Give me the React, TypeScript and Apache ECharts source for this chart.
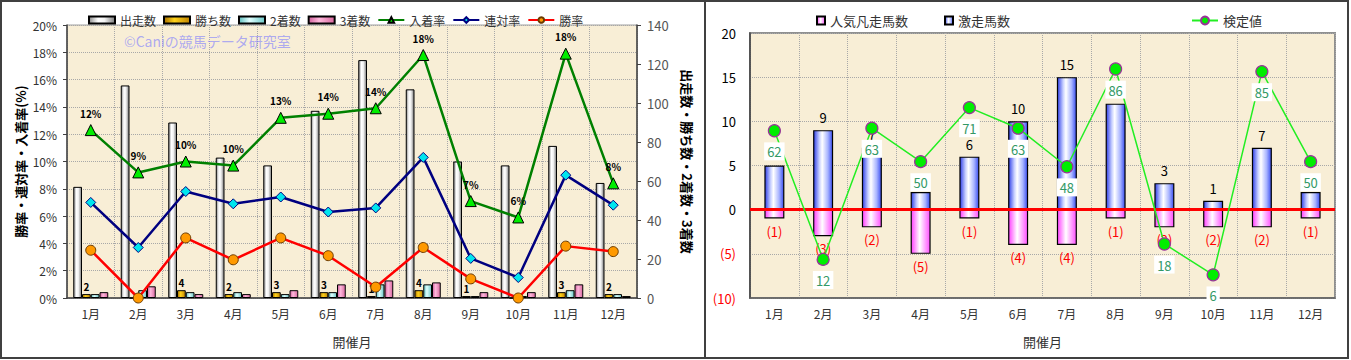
import React, { useEffect, useRef } from 'react';
import * as echarts from 'echarts';

const months = ['1月', '2月', '3月', '4月', '5月', '6月', '7月', '8月', '9月', '10月', '11月', '12月'];

// Left chart
const runners = [57, 109, 90, 72, 68, 96, 122, 107, 70, 68, 78, 59];
const wins = [2, 0, 4, 2, 3, 3, 1, 4, 1, 0, 3, 2];
const seconds = [2, 4, 3, 3, 2, 3, 7, 7, 1, 1, 4, 2];
const thirds = [3, 6, 2, 2, 4, 7, 9, 8, 3, 3, 7, 1];
const placeRate = [12.3, 9.2, 10.0, 9.7, 13.2, 13.5, 13.9, 17.8, 7.1, 5.9, 17.9, 8.4];
const quinellaRate = [7.0, 3.7, 7.8, 6.9, 7.4, 6.3, 6.6, 10.3, 2.9, 1.5, 9.0, 6.8];
const winRate = [3.5, 0, 4.4, 2.8, 4.4, 3.1, 0.8, 3.7, 1.4, 0, 3.8, 3.4];

// Right chart
const upsetCounts = [5, 9, 7, 2, 6, 10, 15, 12, 3, 1, 7, 2];
const favFailCounts = [1, 3, 2, 5, 1, 4, 4, 1, 2, 2, 2, 1];
const testValues = [62, 12, 63, 50, 71, 63, 48, 86, 18, 6, 85, 50];

const FONT = '"Noto Sans CJK JP", "Noto Sans", sans-serif';

const hGrad = (stops: [number, string][]) =>
  new echarts.graphic.LinearGradient(0, 0, 1, 0, stops.map(([offset, color]) => ({ offset, color })));

export default function App() {
  const ref = useRef<HTMLDivElement>(null);

  useEffect(() => {
    document.body.style.margin = '0';
    const chart = echarts.init(ref.current as HTMLDivElement, null, { renderer: 'svg' });

    const gridLine = { show: true, lineStyle: { type: 'dotted' as const, color: '#A8A8A8', width: 1 } };
    const negFavFail = favFailCounts.map((v) => -v);

    const option: any = {
      animation: false,
      textStyle: { fontFamily: FONT },
      graphic: [
        { type: 'rect', shape: { x: 1, y: 1, width: 1347, height: 357 }, style: { fill: 'none', stroke: '#404040', lineWidth: 2 }, silent: true },
        { type: 'line', shape: { x1: 705, y1: 1, x2: 705, y2: 358 }, style: { stroke: '#404040', lineWidth: 2 }, silent: true },
        {
          type: 'text', left: 124, top: 34, z: 10, silent: true,
          style: { text: '©Caniの競馬データ研究室', fill: 'rgba(125,125,255,0.62)', font: `14px ${FONT}` },
        },
      ],
      legend: [
        {
          left: 83, top: 9, itemWidth: 26, itemHeight: 7, itemGap: 7,
          textStyle: { fontSize: 12, color: '#333', fontFamily: FONT },
          data: [
            { name: '出走数', icon: 'rect' },
            { name: '勝ち数', icon: 'rect' },
            { name: '2着数', icon: 'rect' },
            { name: '3着数', icon: 'rect' },
            { name: '入着率' },
            { name: '連対率' },
            { name: '勝率' },
          ],
        },
        {
          left: 811, top: 9, itemWidth: 8, itemHeight: 8, itemGap: 36,
          textStyle: { fontSize: 13, color: '#333', fontFamily: FONT },
          data: [{ name: '人気凡走馬数', icon: 'rect' }, { name: '激走馬数', icon: 'rect' }],
        },
        {
          left: 1186, top: 9, itemWidth: 26, itemHeight: 10,
          textStyle: { fontSize: 13, color: '#333', fontFamily: FONT },
          data: [{ name: '検定値' }],
        },
      ],
      grid: [
        { left: 67, top: 25, width: 570, height: 273, show: true, backgroundColor: '#F8EED6', borderColor: '#A0A0A0', borderWidth: 1 },
        { left: 750, top: 33, width: 585, height: 265, show: true, backgroundColor: '#F8EED6', borderColor: '#909090', borderWidth: 2 },
      ],
      xAxis: [
        {
          type: 'category', gridIndex: 0, data: months,
          axisLine: { lineStyle: { color: '#404040', width: 1.5 } },
          axisTick: { show: false },
          axisLabel: { fontSize: 12, color: '#333', margin: 9 },
          splitLine: gridLine,
          name: '開催月', nameLocation: 'middle', nameGap: 37,
          nameTextStyle: { fontSize: 13, color: '#333' },
        },
        {
          type: 'category', gridIndex: 1, data: months,
          axisLine: { onZero: false, lineStyle: { color: '#606060', width: 1.5 } },
          axisTick: { show: false },
          axisLabel: { fontSize: 12, color: '#333', margin: 9 },
          splitLine: gridLine,
          name: '開催月', nameLocation: 'middle', nameGap: 37,
          nameTextStyle: { fontSize: 13, color: '#333' },
        },
      ],
      yAxis: [
        {
          type: 'value', gridIndex: 0, min: 0, max: 20, interval: 2, position: 'left',
          axisLine: { show: true, lineStyle: { color: '#404040', width: 1.5 } },
          axisTick: { show: true, length: 4 },
          axisLabel: { formatter: '{value}%', fontSize: 12, color: '#333', margin: 10 },
          splitLine: gridLine,
          name: '勝率・連対率・入着率(%)', nameLocation: 'middle', nameRotate: 90, nameGap: 40,
          nameTextStyle: { fontSize: 13, color: '#000', fontWeight: 'bold' },
        },
        {
          type: 'value', gridIndex: 0, min: 0, max: 140, interval: 20, position: 'right',
          axisLine: { show: true, lineStyle: { color: '#404040', width: 1.5 } },
          axisTick: { show: true, length: 4 },
          axisLabel: { fontSize: 13, color: '#555', margin: 10 },
          splitLine: { show: false },
          name: '出走数・勝ち数・2着数・3着数', nameLocation: 'middle', nameRotate: -90, nameGap: 44,
          nameTextStyle: { fontSize: 13, color: '#000', fontWeight: 'bold' },
        },
        {
          type: 'value', gridIndex: 1, min: -10, max: 20, interval: 5,
          axisLine: { show: true, lineStyle: { color: '#404040', width: 1.5 } },
          axisTick: { show: false },
          axisLabel: {
            fontSize: 13, margin: 14,
            formatter: (v: number) => (v < 0 ? `(${-v})` : `${v}`),
            color: (v: any) => (Number(v) < 0 ? '#FF0000' : '#000'),
          },
          splitLine: gridLine,
        },
        { type: 'value', gridIndex: 1, min: -3, max: 100, show: false, splitLine: { show: false } },
      ],
      series: [
        {
          name: '出走数', type: 'bar', xAxisIndex: 0, yAxisIndex: 1, data: runners,
          barWidth: 8.75, barGap: '0%',
          itemStyle: { color: hGrad([[0, '#8C8C8C'], [0.35, '#FFFFFF'], [0.6, '#F2F2F2'], [1, '#7A7A7A']]), borderColor: '#000', borderWidth: 1 },
        },
        {
          name: '勝ち数', type: 'bar', xAxisIndex: 0, yAxisIndex: 1, data: wins,
          barWidth: 8.75, barGap: '0%',
          itemStyle: { color: hGrad([[0, '#A87000'], [0.4, '#FFD21A'], [1, '#C08400']]), borderColor: '#000', borderWidth: 1 },
          label: {
            show: true, position: 'top', distance: 3, fontSize: 10, fontWeight: 'bold', color: '#000',
            formatter: (p: any) => (p.value > 0 ? `${p.value}` : ''),
          },
        },
        {
          name: '2着数', type: 'bar', xAxisIndex: 0, yAxisIndex: 1, data: seconds,
          barWidth: 8.75, barGap: '0%',
          itemStyle: { color: hGrad([[0, '#5FBFBF'], [0.4, '#E0FFFF'], [1, '#6CC8C8']]), borderColor: '#000', borderWidth: 1 },
        },
        {
          name: '3着数', type: 'bar', xAxisIndex: 0, yAxisIndex: 1, data: thirds,
          barWidth: 8.75, barGap: '0%',
          itemStyle: { color: hGrad([[0, '#D0609C'], [0.4, '#FFB8DC'], [1, '#D8689F']]), borderColor: '#000', borderWidth: 1 },
        },
        {
          name: '入着率', type: 'line', xAxisIndex: 0, yAxisIndex: 0, data: placeRate,
          symbol: 'triangle', symbolSize: 11,
          lineStyle: { color: '#008000', width: 2.5 },
          itemStyle: { color: '#00EE00', borderColor: '#000', borderWidth: 1 },
          label: {
            show: true, position: 'top', distance: 6, fontSize: 10, fontWeight: 'bold', color: '#000',
            formatter: (p: any) => `${Math.round(p.value)}%`,
          },
          z: 5,
        },
        {
          name: '連対率', type: 'line', xAxisIndex: 0, yAxisIndex: 0, data: quinellaRate,
          symbol: 'diamond', symbolSize: 10,
          lineStyle: { color: '#000080', width: 2.5 },
          itemStyle: { color: '#00E5EE', borderColor: '#000080', borderWidth: 1 },
          z: 5,
        },
        {
          name: '勝率', type: 'line', xAxisIndex: 0, yAxisIndex: 0, data: winRate,
          symbol: 'circle', symbolSize: 10,
          lineStyle: { color: '#FF0000', width: 2.5 },
          itemStyle: { color: '#FF9900', borderColor: '#6B3A00', borderWidth: 1 },
          z: 5,
        },
        {
          name: '人気凡走馬数', type: 'bar', xAxisIndex: 1, yAxisIndex: 2, data: negFavFail,
          barWidth: 20, barGap: '-100%',
          itemStyle: { color: hGrad([[0, '#FF40FF'], [0.45, '#FFFFFF'], [1, '#FF50FF']]), borderColor: '#000', borderWidth: 1.2 },
          label: {
            show: true, position: 'bottom', distance: 6, fontSize: 13, color: '#FF0000',
            formatter: (p: any) => `(${-p.value})`,
          },
        },
        {
          name: '激走馬数', type: 'bar', xAxisIndex: 1, yAxisIndex: 2, data: upsetCounts,
          barWidth: 20, barGap: '-100%',
          itemStyle: { color: hGrad([[0, '#3040E8'], [0.3, '#C8D0FF'], [0.45, '#FFFFFF'], [0.75, '#A8B4FF'], [1, '#3A4EF0']]), borderColor: '#000', borderWidth: 1.2 },
          label: { show: true, position: 'top', distance: 6, fontSize: 13, color: '#000' },
          markLine: {
            silent: true, symbol: 'none', label: { show: false },
            lineStyle: { color: '#FF0000', width: 3, type: 'solid' },
            data: [{ yAxis: 0 }],
          },
        },
        {
          name: '検定値', type: 'line', xAxisIndex: 1, yAxisIndex: 3, data: testValues,
          symbol: 'circle', symbolSize: 12,
          lineStyle: { color: '#22EE22', width: 1.5 },
          itemStyle: { color: '#00EE00', borderColor: '#993399', borderWidth: 1.2 },
          label: {
            show: true, position: 'bottom', distance: 5, fontSize: 13, color: '#339966',
            backgroundColor: '#FFFFFF', padding: [3, 3, 2, 3],
          },
          z: 6,
        },
      ],
    };

    chart.setOption(option);
    return () => chart.dispose();
  }, []);

  return <div ref={ref} style={{ width: 1351, height: 360 }} />;
}
